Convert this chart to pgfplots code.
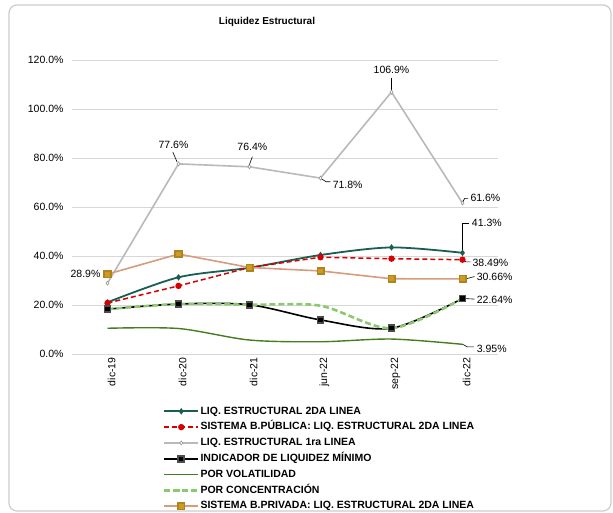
\documentclass[border=0pt]{standalone}
\usepackage{pgfplots}
\pgfplotsset{compat=1.18}
\usepackage{fontspec}
\setmainfont{Liberation Sans}
\definecolor{cteal}{RGB}{25,95,80}
\definecolor{cred}{RGB}{215,0,0}
\definecolor{cgray}{RGB}{185,185,185}
\definecolor{cvol}{RGB}{70,125,30}
\definecolor{cconc}{RGB}{140,200,110}
\definecolor{ctan}{RGB}{215,155,125}
\definecolor{cgold}{RGB}{205,155,35}
\definecolor{cgrid}{RGB}{215,215,215}
\begin{document}
\begin{tikzpicture}
\useasboundingbox (0pt,0pt) rectangle (613pt,513pt);
\draw[rounded corners=8pt, draw=black!20, line width=1.2pt] (9pt,2pt) rectangle (611pt,508pt);
\node[font=\bfseries\fontsize{10}{12}\selectfont] at (267pt,491pt) {Liquidez Estructural};
\begin{axis}[
  at={(72pt,159pt)}, anchor=south west,
  scale only axis, width=426pt, height=294pt,
  xmin=-0.5, xmax=5.5, ymin=0, ymax=120,
  clip=false,
  axis line style={draw=none},
  ymajorgrids, grid style={cgrid, line width=0.8pt},
  ytick={0,20,40,60,80,100,120},
  yticklabel={\pgfmathprintnumber[fixed,fixed zerofill,precision=1]{\tick}\%},
  /pgf/number format/assume math mode=true,
  yticklabel style={font=\fontsize{10.5}{12}\selectfont, xshift=-5pt},
  xtick={0,1,2,3,4,5},
  xticklabels={dic-19,dic-20,dic-21,jun-22,sep-22,dic-22},
  xticklabel style={rotate=90, anchor=east, font=\fontsize{10.5}{12}\selectfont, yshift=-4pt},
  tick style={draw=none},
  legend style={at={(0.206,-0.168)}, anchor=north west, draw=none, fill=none,
    font=\bfseries\fontsize{10.5}{12}\selectfont, row sep=4.3pt,
    nodes={inner sep=1pt, text height=7.5pt, text depth=2pt}},
  legend cell align=left,
  legend image code/.code={\draw[mark repeat=2,mark phase=2,#1] plot coordinates {(0pt,0pt) (17pt,0pt) (34pt,0pt)};},
]
% LIQ. ESTRUCTURAL 2DA LINEA
\addplot[cteal, line width=1.8pt, smooth, mark=diamond*, mark size=1.8pt, mark options={solid}] coordinates
  {(0,21.1) (1,31.3) (2,35.2) (3,40.4) (4,43.5) (5,41.3)};
\addlegendentry{LIQ. ESTRUCTURAL 2DA LINEA}
% SISTEMA B.PUBLICA
\addplot[cred, line width=1.5pt, dash pattern=on 5pt off 3pt, mark=*, mark size=2.4pt, mark options={solid}] coordinates
  {(0,20.8) (1,27.8) (2,35.3) (3,39.5) (4,38.9) (5,38.49)};
\addlegendentry{SISTEMA B.PÚBLICA: LIQ. ESTRUCTURAL 2DA LINEA}
% LIQ 1ra LINEA
\addplot[cgray, line width=1.6pt, mark=diamond*, mark size=2pt, mark options={fill=white, draw=cgray!80!black, line width=0.6pt}] coordinates
  {(0,28.9) (1,77.6) (2,76.4) (3,71.8) (4,106.9) (5,61.6)};
\addlegendentry{LIQ. ESTRUCTURAL 1ra LINEA}
% INDICADOR MINIMO
\addplot[black, line width=1.6pt, smooth, mark=square*, mark size=3pt, mark options={solid, draw=black!70}] coordinates
  {(0,18.3) (1,20.4) (2,20.1) (3,13.9) (4,10.5) (5,22.64)};
\addlegendentry{INDICADOR DE LIQUIDEZ MÍNIMO}
% POR VOLATILIDAD
\addplot[cvol, line width=1.4pt, smooth] coordinates
  {(0,10.5) (1,10.4) (2,5.7) (3,5.0) (4,6.1) (5,3.95)};
\addlegendentry{POR VOLATILIDAD}
% POR CONCENTRACION
\addplot[cconc, line width=2.6pt, smooth, dash pattern=on 6pt off 3pt] coordinates
  {(0,18.3) (1,20.4) (2,20.1) (3,19.7) (4,10.5) (5,22.64)};
\addlegendentry{POR CONCENTRACIÓN}
% SISTEMA B.PRIVADA
\addplot[ctan, line width=1.6pt, mark=square*, mark size=3.2pt, mark options={fill=cgold, draw=cgold!85!black}] coordinates
  {(0,32.6) (1,40.8) (2,35.3) (3,33.9) (4,30.7) (5,30.66)};
\addlegendentry{SISTEMA B.PRIVADA: LIQ. ESTRUCTURAL 2DA LINEA}

% data labels
\begin{scope}[font=\fontsize{10.5}{12}\selectfont]
\node at (axis cs:-0.31,32.7) {28.9\%};
\node at (axis cs:0.93,85.3) {77.6\%};
\draw[black, line width=0.6pt] (axis cs:0.92,82.4) -- (axis cs:0.98,78.4);
\node at (axis cs:2.04,84.5) {76.4\%};
\draw[black, line width=0.6pt] (axis cs:2.04,80.5) -- (axis cs:1.99,76.6);
\node[anchor=west, inner sep=0pt] at (axis cs:3.17,69.0) {71.8\%};
\draw[black, line width=0.6pt] (axis cs:3.0,71.7) -- (axis cs:3.08,70.3) -- (axis cs:3.14,70.3);
\node at (axis cs:4.0,115.9) {106.9\%};
\draw[black, line width=0.6pt] (axis cs:4,112.7) -- (axis cs:4,107.6);
\node[anchor=west, inner sep=0pt] at (axis cs:5.11,63.7) {61.6\%};
\draw[black, line width=0.6pt] (axis cs:5,61.8) -- (axis cs:5.03,63.5) -- (axis cs:5.08,63.5);
\node[anchor=west, inner sep=0pt] at (axis cs:5.13,53.5) {41.3\%};
\draw[black, line width=0.6pt] (axis cs:5,42) -- (axis cs:5,53.5) -- (axis cs:5.09,53.5);
\node[anchor=west, inner sep=0pt] at (axis cs:5.14,37.1) {38.49\%};
\draw[black, line width=0.6pt] (axis cs:5,38.3) -- (axis cs:5.05,37.6) -- (axis cs:5.11,37.6);
\node[anchor=west, inner sep=0pt] at (axis cs:5.2,31.4) {30.66\%};
\draw[black, line width=0.6pt] (axis cs:5.05,30.7) -- (axis cs:5.17,31.6);
\node[anchor=west, inner sep=0pt] at (axis cs:5.2,22.2) {22.64\%};
\draw[black, line width=0.6pt] (axis cs:5.05,22.6) -- (axis cs:5.17,22.4);
\node[anchor=west, inner sep=0pt] at (axis cs:5.2,2.0) {3.95\%};
\draw[black, line width=0.6pt] (axis cs:5,4.0) -- (axis cs:5.07,2.9) -- (axis cs:5.16,2.9);
\end{scope}
\end{axis}
\end{tikzpicture}
\end{document}
